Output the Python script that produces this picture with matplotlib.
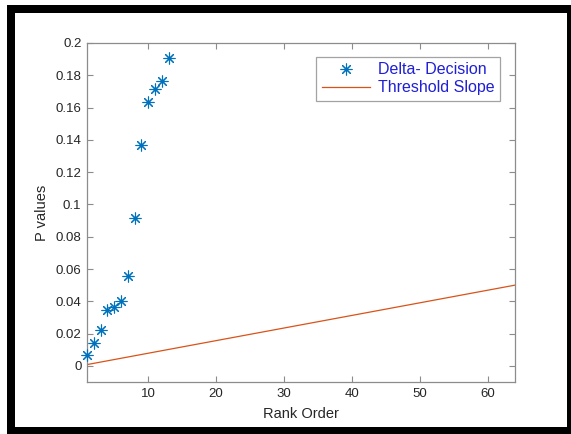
import numpy as np
import matplotlib
matplotlib.use("Agg")
import matplotlib.pyplot as plt
from matplotlib.patches import Rectangle

plt.rcParams['font.family'] = ['Liberation Sans', 'DejaVu Sans']

# data
rank = np.arange(1, 14)
p_values = [0.0068, 0.0140, 0.0223, 0.0347, 0.0363, 0.0402, 0.0557,
            0.0916, 0.1368, 0.1633, 0.1717, 0.1765, 0.1909]
n_tests = 64
alpha = 0.05
thr_rank = np.arange(1, n_tests + 1)
threshold = thr_rank / n_tests * alpha

W, H = 571, 434
fig = plt.figure(figsize=(W / 100, H / 100), dpi=100)

# black frame around the figure (pixel coords -> figure fraction)
def px_rect(x0, y0, x1, y1, color):
    fig.patches.append(Rectangle((x0 / W, 1 - y1 / H), (x1 - x0) / W, (y1 - y0) / H,
                                 transform=fig.transFigure, facecolor=color,
                                 edgecolor='none', zorder=-10))

px_rect(7, 5, W, H, 'black')
px_rect(15, 13, 567, 427, 'white')

ax = fig.add_axes([87 / W, 1 - 382 / H, (515 - 87) / W, (382 - 43) / H])

# MATLAB-style '*' marker: 8 thin arms
ast = (8, 2, 0)
ax.plot(rank, p_values, linestyle='none', marker=ast, markersize=8.5,
        markeredgewidth=0.8, color='#0072BD', label='Delta- Decision',
        clip_on=False, zorder=3)
ax.plot(thr_rank, threshold, color='#D95319', linewidth=0.9, label='Threshold Slope')

ax.set_xlim(1, 64)
ax.set_ylim(-0.01, 0.2)
ax.set_xticks([10, 20, 30, 40, 50, 60])
ax.set_yticks(np.arange(0, 0.201, 0.02))
ax.set_yticklabels(['0', '0.02', '0.04', '0.06', '0.08', '0.1', '0.12',
                    '0.14', '0.16', '0.18', '0.2'])

gray = '#262626'
for s in ax.spines.values():
    s.set_color('#8c8c8c')
    s.set_linewidth(0.9)
ax.tick_params(direction='in', top=True, right=True, length=4, width=0.8,
               colors='#8c8c8c', labelcolor=gray, labelsize=9.5, pad=4)

ax.set_xlabel('Rank Order', fontsize=10.5, color=gray, labelpad=5)
ax.set_ylabel('P values', fontsize=10.5, color=gray, labelpad=5)

leg = ax.legend(loc='upper right', bbox_to_anchor=(0.965, 0.96), fontsize=11.5,
                frameon=True, fancybox=False, borderpad=0.35, handlelength=3.0,
                handletextpad=0.5, labelspacing=0.2, borderaxespad=0)
leg.get_frame().set_edgecolor('#8c8c8c')
leg.get_frame().set_linewidth(0.9)
for t in leg.get_texts():
    t.set_color('#1f1fd6')

fig.savefig('out.png', dpi=100)
